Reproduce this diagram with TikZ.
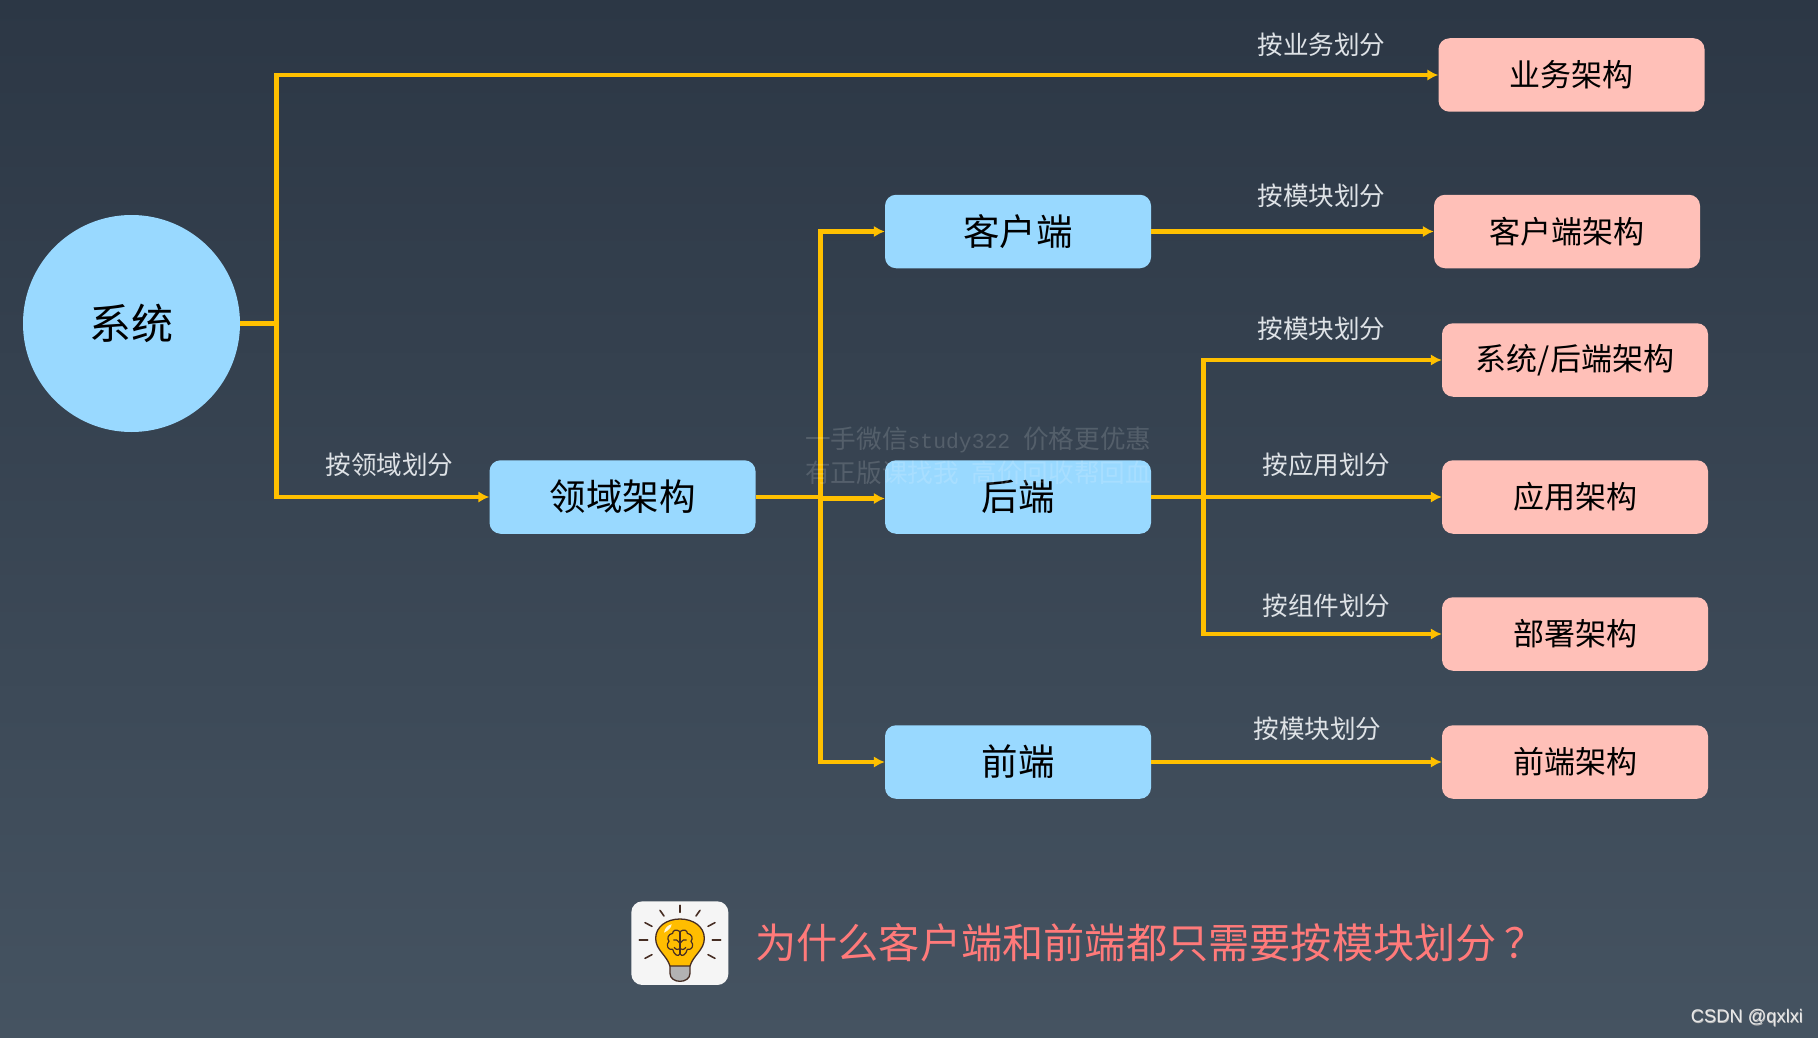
\documentclass[tikz,border=0pt]{standalone}
\usepackage{fontspec}
\setmainfont{Noto Sans CJK SC}
\newfontfamily\wmono{Liberation Mono}
\newfontfamily\lsans{Liberation Sans}
\usetikzlibrary{arrows.meta}
\definecolor{lineY}{RGB}{255,192,0}
\definecolor{boxB}{RGB}{153,217,255}
\definecolor{boxP}{RGB}{255,192,184}
\definecolor{labelC}{RGB}{222,226,230}
\definecolor{askC}{RGB}{255,122,122}
\definecolor{bgTop}{RGB}{44,55,69}
\definecolor{bgBot}{RGB}{69,83,97}
\definecolor{brn}{RGB}{70,45,35}
\tikzset{
  basebox/.style={rounded corners=11pt,minimum width=266pt,minimum height=73.5pt,inner sep=0pt,text=black},
  bluebox/.style={basebox,fill=boxB,font=\fontsize{36.5}{36}\selectfont},
  pinkbox/.style={basebox,fill=boxP,font=\fontsize{31}{31}\selectfont},
  lbl/.style={text=labelC,inner sep=0pt,font=\fontsize{25.6}{26}\selectfont},
  link/.style={draw=lineY,line width=4.1pt},
  arrowlink/.style={link,-{Latex[length=11pt,width=11.5pt]}},
  ray/.style={draw=brn,line width=1.6pt,line cap=round},
  wm/.style={text=white,opacity=.15,inner sep=0pt,anchor=west,font=\fontsize{25.6}{26}\selectfont}
}
\begin{document}
\begin{tikzpicture}[x=1pt,y=-1pt]
\useasboundingbox (0,0) rectangle (1818,1038);
\shade[top color=bgTop,bottom color=bgBot] (0,0) rectangle (1818,1038);
% nodes
\node[circle,fill=boxB,minimum size=217pt,inner sep=0pt,text=black,font=\fontsize{42}{41}\selectfont] (sys) at (131.5,323.5) {\raisebox{-1.5pt}{系统}};
\node[bluebox] (dom) at (622.5,497) {\raisebox{-2pt}{领域架构}};
\node[bluebox] (cli) at (1018,231.5) {\raisebox{-1pt}{客户端}};
\node[bluebox] (back) at (1018,497) {\raisebox{-2pt}{后端}};
\node[bluebox] (fe) at (1018,762) {\raisebox{-1pt}{前端}};
\node[pinkbox] (biz) at (1571.5,75) {\raisebox{-1pt}{业务架构}};
\node[pinkbox] (cliA) at (1567,231.5) {\raisebox{-1pt}{客户端架构}};
\node[pinkbox] (sysA) at (1575,360) {\raisebox{-1pt}{系统/后端架构}};
\node[pinkbox] (appA) at (1575,497) {\raisebox{-1pt}{应用架构}};
\node[pinkbox] (depA) at (1575,634) {\raisebox{-1pt}{部署架构}};
\node[pinkbox] (feA) at (1575,762) {\raisebox{-1pt}{前端架构}};
% junctions
\coordinate (t1) at (276.5,323.5);
\coordinate (t2) at (820.5,497);
\coordinate (t3) at (1203.5,497);
% connectors
\draw[link] (sys.east) -- (t1);
\draw[arrowlink] (t1) |- (biz.west);
\draw[arrowlink] (t1) |- (dom.west);
\draw[link] (dom.east) -- (t2);
\draw[arrowlink] (t2) |- (cli.west);
\draw[arrowlink] (t2) |- (fe.west);
\draw[arrowlink] ([yshift=-1.5pt]t2) -- ([yshift=-1.5pt]back.west);
\draw[arrowlink] (cli.east) -- (cliA.west);
\draw[arrowlink] (back.east) -- (appA.west);
\draw[arrowlink] (t3) |- (sysA.west);
\draw[arrowlink] (t3) |- (depA.west);
\draw[arrowlink] (fe.east) -- (feA.west);
% labels
\node[lbl] (l1) at (1321.5,45) {按业务划分};
\node[lbl] (l2) at (1321.5,196) {按模块划分};
\node[lbl] (l3) at (1321.5,329) {按模块划分};
\node[lbl] (l4) at (1326.5,465) {按应用划分};
\node[lbl] (l5) at (1326.5,606) {按组件划分};
\node[lbl] (l6) at (1317.5,729) {按模块划分};
\node[lbl] (l7) at (389.5,465) {按领域划分};
% question
\node[text=askC,inner sep=0pt,anchor=west,font=\fontsize{41.2}{41}\selectfont] (ask) at (755,943) {为什么客户端和前端都只需要按模块划分\hspace{8pt}？};
% icon
\begin{scope}[shift={(600,860)},x=0.3333pt,y=-0.3333pt]
\fill[white!96!black,rounded corners=11pt] (94,124) rectangle (385,375);
\foreach \a/\b/\c/\d in {240/136/240/157,180/151/192/168,300/151/288/168,135/188/156/199,345/188/324/199,118/240/143/240,337/240/362/240,135/295/156/284,345/295/324/284}
  \draw[ray] (\a,\b) -- (\c,\d);
\draw[brn,line width=1.3pt,fill=gray!60!white] (210,310) -- (210,340) .. controls (210,356) and (225,364) .. (240,364) .. controls (255,364) and (270,356) .. (270,340) -- (270,310) -- cycle;
\draw[brn,line width=1.3pt,fill=lineY!95!orange] (210,318) .. controls (200,285) and (167,270) .. (167,235) .. controls (167,200) and (200,177) .. (240,177) .. controls (280,177) and (313,200) .. (313,235) .. controls (313,270) and (280,285) .. (270,318) -- cycle;
\fill[white!85!lineY] (192,218) .. controls (194,204) and (204,195) .. (215,193) .. controls (214,204) and (204,212) .. (192,218) -- cycle;
\draw[brn,line width=1.2pt,line join=round] (240,215) .. controls (228,205) and (218,212) .. (218,220) .. controls (204,222) and (200,236) .. (207,244) .. controls (196,254) and (204,272) .. (218,268) .. controls (222,284) and (234,292) .. (240,282) .. controls (246,292) and (258,284) .. (262,268) .. controls (276,272) and (284,254) .. (273,244) .. controls (280,236) and (276,222) .. (262,220) .. controls (262,212) and (252,205) .. (240,215) -- cycle;
\draw[brn,line width=1.2pt] (240,215) -- (240,282);
\draw[brn,line width=1.2pt] (220,240) .. controls (226,236) and (232,240) .. (240,250) .. controls (248,240) and (254,236) .. (260,240);
\draw[brn,line width=1.2pt] (222,262) .. controls (228,270) and (236,270) .. (240,266) .. controls (244,270) and (252,270) .. (258,262);
\end{scope}
% watermark
\node[wm] (w1) at (805,440) {一手微信{\wmono\fontsize{21.4}{26}\selectfont study322}\hspace{13pt}价格更优惠};
\node[wm] (w2) at (805,473) {有正版课找我\hspace{13pt}高价回收帮回血};
% credit
\node[inner sep=0pt,text=gray!55!white,font=\lsans\fontsize{18.3}{20}\selectfont] (c1) at (1747.5,1018.5) {CSDN @qxlxi};
\node[inner sep=0pt,text=white!82!gray,font=\lsans\fontsize{18.3}{20}\selectfont] (c2) at (1747,1018) {CSDN @qxlxi};
\end{tikzpicture}
\end{document}
